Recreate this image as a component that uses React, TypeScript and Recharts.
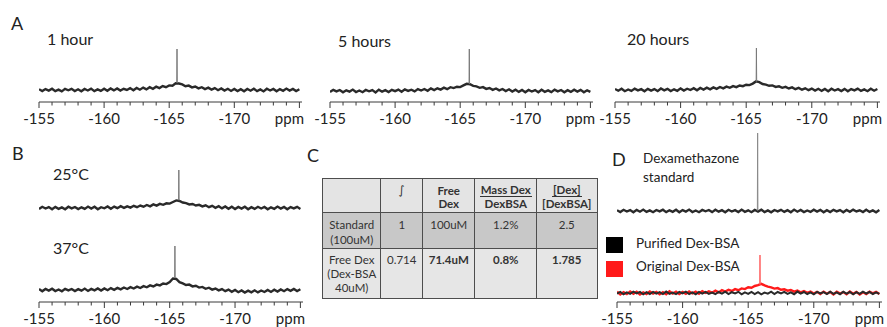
import React from 'react';
import { LineChart, Line, XAxis, YAxis } from 'recharts';

// chemical shift grid shared by every spectrum (ppm)
const ppmGrid = [
  -155, -155.25, -155.5, -155.75, -156, -156.25, -156.5, -156.75,
  -157, -157.25, -157.5, -157.75, -158, -158.25, -158.5, -158.75,
  -159, -159.25, -159.5, -159.75, -160, -160.25, -160.5, -160.75,
  -161, -161.25, -161.5, -161.75, -162, -162.25, -162.5, -162.75,
  -163, -163.25, -163.5, -163.75, -164, -164.25, -164.5, -164.75,
  -165, -165.25, -165.5, -165.75, -166, -166.25, -166.5, -166.75,
  -167, -167.25, -167.5, -167.75, -168, -168.25, -168.5, -168.75,
  -169, -169.25, -169.5, -169.75, -170, -170.25, -170.5, -170.75,
  -171, -171.25, -171.5, -171.75, -172, -172.25, -172.5, -172.75,
  -173, -173.25, -173.5, -173.75, -174, -174.25, -174.5, -174.75,
  -175,
];

const ppmTicks = [
  -155, -156, -157, -158, -159, -160, -161, -162, -163, -164, -165,
  -166, -167, -168, -169, -170, -171, -172, -173, -174, -175,
];

// A: 1 hour
const hour1 = [
  0.8, -1.1, 0.9, -0.6, 1.3, -1.2, 0.4, -1.4, 1.1, -0.3,
  1.2, -1.0, 0.7, -1.3, 1.0, -0.5, 1.4, -1.1, 0.6, -0.9,
  1.3, -0.8, 1.5, -0.4, 1.6, -0.6, 1.2, 0.0, 1.9, -0.2,
  2.1, 0.3, 2.4, 0.6, 2.8, 1.2, 3.3, 1.9, 3.9, 2.8,
  4.6, 4.2, 6.8, 6.5, 5.6, 3.8, 4.4, 2.6, 3.5, 1.6,
  2.8, 0.9, 2.3, 0.4, 1.9, -0.2, 1.6, -0.5, 1.2, -0.9,
  1.1, -1.0, 0.8, -1.2, 1.0, -0.7, 1.3, -1.1, 0.6, -1.4,
  1.2, -0.5, 1.1, -1.2, 0.9, -0.8, 1.4, -0.6, 1.0, -1.1,
  0.7,
];
const hour1PeakPpm = [-165.58, -165.6, -165.62];
const hour1PeakVal = [7.5, 41, 7];

// A: 5 hours
const hour5 = [
  -0.9, 1.2, -0.4, 1.0, -1.3, 0.7, -0.6, 1.4, -1.0, 0.5,
  -1.2, 1.1, -0.3, 0.9, -1.4, 1.3, -0.7, 0.8, -1.1, 1.2,
  -0.2, 1.4, -0.8, 1.6, 0.1, 1.3, -0.4, 1.9, 0.5, 2.0,
  0.2, 2.6, 0.9, 2.7, 1.4, 3.3, 1.8, 3.8, 2.9, 4.3,
  3.9, 5.6, 7.2, 6.8, 5.1, 4.6, 3.2, 3.9, 2.1, 3.0,
  1.2, 2.5, 0.6, 2.0, -0.1, 1.7, -0.6, 1.3, -0.9, 1.0,
  -1.2, 1.1, -0.5, 0.9, -1.3, 1.2, -0.8, 0.6, -1.1, 1.4,
  -0.4, 1.0, -1.2, 0.8, -0.9, 1.3, -0.6, 1.1, -1.3, 0.7,
  -0.8,
];
const hour5PeakPpm = [-165.68, -165.7, -165.72];
const hour5PeakVal = [7.5, 42, 7];

// A: 20 hours
const hour20 = [
  1.0, -0.7, 1.3, -1.2, 0.5, -0.9, 1.4, -0.4, 0.8, -1.3,
  1.1, -0.6, 0.9, -1.1, 1.5, -0.3, 1.2, -1.0, 0.7, -0.8,
  1.6, -0.5, 1.3, 0.0, 1.8, -0.3, 2.0, 0.4, 2.3, 0.7,
  2.6, 1.1, 3.0, 1.6, 3.4, 2.2, 3.9, 2.9, 4.5, 3.8,
  5.3, 4.9, 6.4, 8.6, 7.9, 6.0, 5.4, 4.2, 4.6, 3.1,
  3.7, 2.2, 3.1, 1.5, 2.6, 0.8, 2.1, 0.3, 1.7, -0.2,
  1.4, -0.6, 1.2, -0.9, 1.0, -1.2, 1.3, -0.5, 0.8, -1.1,
  1.1, -1.3, 0.9, -0.4, 1.4, -0.9, 0.6, -1.2, 1.2, -0.7,
  1.0,
];
const hour20PeakPpm = [-165.76, -165.78, -165.8];
const hour20PeakVal = [8.5, 42, 8.5];

// B: 25°C
const temp25 = [
  -1.0, 1.2, -0.5, 0.9, -1.3, 1.1, -0.8, 0.6, -1.2, 1.3,
  -0.4, 1.0, -1.1, 0.7, -0.9, 1.4, -0.6, 1.2, -1.3, 0.8,
  -0.3, 1.5, -0.7, 1.4, -0.2, 1.8, 0.1, 1.7, 0.4, 2.2,
  0.8, 2.5, 1.3, 3.0, 1.7, 3.6, 2.4, 4.1, 3.2, 4.7,
  4.4, 6.0, 7.6, 7.0, 5.5, 4.8, 3.6, 4.0, 2.5, 3.2,
  1.6, 2.7, 0.8, 2.2, 0.2, 1.8, -0.4, 1.5, -0.8, 1.2,
  -1.0, 1.1, -0.6, 1.3, -1.2, 0.8, -0.9, 1.2, -0.5, 1.0,
  -1.3, 0.7, -0.8, 1.4, -0.6, 1.1, -1.2, 0.9, -0.4, 1.2,
  -0.9,
];
const temp25PeakPpm = [-165.68, -165.7, -165.72];
const temp25PeakVal = [8, 38, 7.5];

// B: 37°C
const temp37 = [
  0.9, -1.2, 1.1, -0.6, 1.3, -1.0, 0.5, -1.3, 1.2, -0.4,
  1.0, -1.1, 0.8, -0.7, 1.4, -0.9, 1.1, -0.3, 1.5, -0.5,
  1.6, -0.2, 1.9, 0.2, 2.1, 0.6, 2.5, 1.0, 2.9, 1.5,
  3.4, 2.0, 3.9, 2.7, 4.6, 3.5, 5.4, 4.6, 6.5, 5.9,
  8.0, 11.5, 11.0, 7.9, 6.6, 5.0, 5.4, 3.6, 4.2, 2.4,
  3.1, 1.2, 2.3, 0.4, 1.5, -0.4, 0.9, -1.2, 0.4, -1.8,
  0.0, -2.2, -0.4, -2.5, -0.6, -2.3, -0.3, -2.4, -0.5, -2.0,
  0.1, -1.9, 0.3, -1.5, 0.6, -1.2, 0.9, -0.8, 1.1, -1.0,
  0.8,
];
const temp37PeakPpm = [-165.38, -165.4, -165.42];
const temp37PeakVal = [12.5, 44, 12];

// D: dexamethazone standard
const standard = [
  0.8, -1.0, 1.2, -0.5, 0.9, -1.3, 1.1, -0.7, 1.4, -0.9,
  0.6, -1.2, 1.0, -0.4, 1.3, -1.1, 0.7, -0.8, 1.2, -1.3,
  0.9, -0.6, 1.4, -1.0, 0.5, -1.2, 1.1, -0.3, 1.0, -1.1,
  1.3, -0.7, 0.8, -1.3, 1.2, -0.5, 0.9, -1.0, 1.4, -0.8,
  0.7, -1.2, 1.1, -0.6, 1.3, -1.0, 0.6, -1.3, 1.0, -0.4,
  1.2, -0.9, 0.8, -1.2, 1.4, -0.7, 1.0, -1.1, 0.5, -0.9,
  1.3, -0.6, 1.1, -1.3, 0.8, -1.0, 1.2, -0.4, 0.9, -1.2,
  1.0, -0.8, 1.4, -0.5, 0.7, -1.1, 1.2, -0.9, 0.6, -1.3,
  0.9,
];
const standardPeakPpm = [-165.7, -165.72, -165.74];
const standardPeakVal = [0.5, 78, 0.5];

// D: purified Dex-BSA
const purified = [
  -0.7, 1.1, -1.2, 0.6, -0.9, 1.3, -0.4, 1.0, -1.3, 0.8,
  -1.0, 1.2, -0.6, 0.9, -1.1, 1.4, -0.8, 0.5, -1.2, 1.0,
  -0.5, 1.3, -1.0, 0.7, -1.3, 1.1, -0.6, 1.2, -0.9, 0.4,
  -1.2, 1.0, -0.7, 1.4, -1.1, 0.8, -0.4, 1.2, -1.3, 0.6,
  -0.8, 1.1, -1.0, 0.9, -1.3, 0.5, -0.6, 1.3, -1.1, 1.0,
  -0.4, 1.2, -0.9, 0.7, -1.2, 1.4, -0.7, 1.0, -1.0, 0.6,
  -1.3, 1.1, -0.5, 0.9, -1.1, 1.3, -0.8, 0.6, -1.2, 1.2,
  -0.6, 1.0, -1.3, 0.8, -0.9, 1.4, -0.5, 1.1, -1.0, 0.7,
  -0.8,
];

// D: original Dex-BSA
const original = [
  1.3, -1.5, 0.9, -1.1, 1.6, -0.8, 1.2, -1.6, 0.7, -1.0,
  1.5, -0.6, 1.1, -1.4, 0.8, -1.2, 1.7, -0.5, 1.3, -1.1,
  1.0, -0.9, 1.6, -0.4, 1.4, -0.8, 1.9, 0.0, 1.7, 0.3,
  2.3, 0.6, 2.8, 1.4, 3.2, 2.0, 3.9, 2.8, 4.6, 3.9,
  5.7, 5.2, 7.0, 7.8, 9.2, 7.6, 6.3, 5.6, 4.4, 4.9,
  3.2, 3.8, 2.3, 3.0, 1.4, 2.4, 0.7, 1.9, 0.2, 1.5,
  -0.5, 1.2, -1.0, 1.4, -0.7, 1.0, -1.4, 1.3, -0.6, 0.9,
  -1.2, 1.5, -0.8, 1.1, -1.5, 0.8, -1.0, 1.3, -0.4, 1.1,
  -0.9,
];
const originalPeakPpm = [-165.88, -165.9, -165.92];
const originalPeakVal = [8.5, 38, 8.5];

type Pt = { ppm: number; v: number };

const toPoints = (ppm: number[], vals: number[]): Pt[] => ppm.map((p, i) => ({ ppm: p, v: vals[i] }));

const FONT = 'Lato, "Open Sans", sans-serif';
const INK = '#222';
const AXIS = '#3a3a3a';
const BAND = '#2a2a2a';
const SPIKE = '#7a7a7a';
const RED = '#ff1a1a';

const PpmTick = (props: any) => {
  const { x, y, payload } = props;
  const v = payload.value;
  const major = v % 5 === 0;
  return (
    <g>
      <line x1={x} x2={x} y1={y} y2={y + (major ? 6 : 3.5)} stroke={AXIS} strokeWidth={1} />
      {major && v !== -175 && (
        <text x={x} y={y + 21.5} textAnchor="middle" fontFamily={FONT} fontSize={15} fill={INK}>
          {v}
        </text>
      )}
    </g>
  );
};

const PpmLabel = (props: any) => {
  const vb = props.viewBox || {};
  return (
    <text x={vb.x + vb.width + 2} y={vb.y + 21.5} textAnchor="end" fontFamily={FONT} fontSize={15} fill={INK}>
      ppm
    </text>
  );
};

type Trace = { data: Pt[]; color: string; width: number };

// noisy baseline drawn as a thick band, the sharp resonance as a thin line
const spectrum = (vals: number[], peakPpm: number[], peakVal: number[], color = BAND, spike = SPIKE): Trace[] => [
  { data: toPoints(ppmGrid, vals), color, width: 2.4 },
  { data: toPoints(peakPpm, peakVal), color: spike, width: 1 },
];

const PAD = 22;

const Spectrum: React.FC<{
  plotLeft: number;
  plotWidth: number;
  plotTop: number;
  plotHeight: number;
  yDomain: [number, number];
  traces: Trace[];
  axis?: boolean;
}> = ({ plotLeft, plotWidth, plotTop, plotHeight, yDomain, traces, axis }) => (
  <div style={{ position: 'absolute', left: plotLeft - PAD, top: plotTop }}>
    <LineChart
      width={plotWidth + PAD * 2}
      height={plotHeight + (axis ? 30 : 0)}
      margin={{ top: 0, right: PAD, bottom: 0, left: PAD }}
    >
      <XAxis
        type="number"
        dataKey="ppm"
        domain={[-175.2, -155]}
        reversed
        allowDataOverflow
        hide={!axis}
        height={axis ? 30 : 0}
        ticks={ppmTicks}
        interval={0}
        tickSize={0}
        tickMargin={0}
        tickLine={false}
        axisLine={{ stroke: AXIS, strokeWidth: 1 }}
        tick={<PpmTick />}
        label={axis ? { content: PpmLabel } : undefined}
      />
      <YAxis hide type="number" domain={yDomain} allowDataOverflow />
      {traces.map((t, i) => (
        <Line
          key={i}
          data={t.data}
          dataKey="v"
          type="linear"
          stroke={t.color}
          strokeWidth={t.width}
          strokeLinejoin="miter"
          dot={false}
          activeDot={false}
          isAnimationActive={false}
        />
      ))}
    </LineChart>
  </div>
);

const Txt: React.FC<{ x: number; cy: number; size: number; children: React.ReactNode }> = ({ x, cy, size, children }) => (
  <div
    style={{
      position: 'absolute',
      left: x,
      top: cy - 0.527 * size,
      fontSize: size,
      lineHeight: `${size}px`,
      whiteSpace: 'nowrap',
    }}
  >
    {children}
  </div>
);

// table layout
const colX = [322, 380, 422, 474, 536, 596];
const rowY = [178, 212, 248, 297];
const rowBg = ['#e4e4e4', '#c8c8c8', '#e6e6e6'];

const Frac: React.FC<{ top: string; bottom: string }> = ({ top, bottom }) => (
  <div style={{ fontWeight: 700, lineHeight: '12px' }}>
    <span style={{ display: 'inline-block', borderBottom: '1.4px solid #333', padding: '0 1px' }}>{top}</span>
    <div style={{ lineHeight: '14px' }}>{bottom}</div>
  </div>
);

const cells: React.ReactNode[][] = [
  [
    null,
    <div style={{ lineHeight: '13px', fontFamily: '"DejaVu Sans", sans-serif' }}>∫</div>,
    <div style={{ fontWeight: 700, lineHeight: '13px' }}>Free<br />Dex</div>,
    <Frac top="Mass Dex" bottom="DexBSA" />,
    <Frac top="[Dex]" bottom="[DexBSA]" />,
  ],
  [
    <div style={{ lineHeight: '15px' }}>Standard<br />(100uM)</div>,
    <div style={{ lineHeight: '15px' }}>1</div>,
    <div style={{ lineHeight: '15px' }}>100uM</div>,
    <div style={{ lineHeight: '15px' }}>1.2%</div>,
    <div style={{ lineHeight: '15px' }}>2.5</div>,
  ],
  [
    <div style={{ lineHeight: '14px' }}>Free Dex<br />(Dex-BSA<br />40uM)</div>,
    <div style={{ lineHeight: '14px' }}>0.714</div>,
    <div style={{ lineHeight: '14px', fontWeight: 700 }}>71.4uM</div>,
    <div style={{ lineHeight: '14px', fontWeight: 700 }}>0.8%</div>,
    <div style={{ lineHeight: '14px', fontWeight: 700 }}>1.785</div>,
  ],
];
const cellPadTop = [5, 4, 4];

const DataTable: React.FC = () => (
  <>
    {cells.map((row, r) =>
      row.map((content, c) => (
        <div
          key={`${r}-${c}`}
          style={{
            position: 'absolute',
            left: colX[c],
            top: rowY[r],
            width: colX[c + 1] - colX[c] + 1.5,
            height: rowY[r + 1] - rowY[r] + 1.5,
            boxSizing: 'border-box',
            border: '1.5px solid #4d4d4d',
            background: rowBg[r],
            paddingTop: cellPadTop[r],
            textAlign: 'center',
            fontSize: 11.5,
            color: '#333',
          }}
        >
          {content}
        </div>
      )),
    )}
  </>
);

export default function App() {
  return (
    <div
      style={{
        position: 'absolute',
        left: 0,
        top: 0,
        width: 887,
        height: 327,
        background: '#fff',
        fontFamily: FONT,
        color: INK,
        overflow: 'hidden',
      }}
    >
      {/* A */}
      <Txt x={11} cy={23} size={18}>A</Txt>
      <Txt x={47} cy={39} size={16}>1 hour</Txt>
      <Txt x={338} cy={41} size={16}>5 hours</Txt>
      <Txt x={627} cy={39} size={16}>20 hours</Txt>
      <Spectrum plotLeft={39} plotWidth={263} plotTop={42} plotHeight={60} yDomain={[-12, 48]} axis
        traces={spectrum(hour1, hour1PeakPpm, hour1PeakVal)} />
      <Spectrum plotLeft={330} plotWidth={263} plotTop={42} plotHeight={60} yDomain={[-11, 49]} axis
        traces={spectrum(hour5, hour5PeakPpm, hour5PeakVal)} />
      <Spectrum plotLeft={615} plotWidth={265} plotTop={42} plotHeight={60} yDomain={[-12, 48]} axis
        traces={spectrum(hour20, hour20PeakPpm, hour20PeakVal)} />

      {/* B */}
      <Txt x={12} cy={153.5} size={18}>B</Txt>
      <Txt x={53} cy={174} size={16}>25°C</Txt>
      <Txt x={53} cy={248} size={16}>37°C</Txt>
      <Spectrum plotLeft={39} plotWidth={264} plotTop={166} plotHeight={50} yDomain={[-8, 42]}
        traces={spectrum(temp25, temp25PeakPpm, temp25PeakVal)} />
      <Spectrum plotLeft={39} plotWidth={264} plotTop={242} plotHeight={60} yDomain={[-12, 48]} axis
        traces={spectrum(temp37, temp37PeakPpm, temp37PeakVal)} />

      {/* C */}
      <Txt x={307} cy={155} size={18}>C</Txt>
      <DataTable />

      {/* D */}
      <Txt x={612} cy={159} size={18}>D</Txt>
      <Txt x={643} cy={159} size={13.5}>Dexamethazone</Txt>
      <Txt x={643} cy={178} size={13.5}>standard</Txt>
      <Spectrum plotLeft={617} plotWidth={265} plotTop={131} plotHeight={86} yDomain={[-6, 80]}
        traces={spectrum(standard, standardPeakPpm, standardPeakVal, BAND, '#8a8a8a')} />
      <div style={{ position: 'absolute', left: 606, top: 237, width: 17, height: 16, background: '#000' }} />
      <div style={{ position: 'absolute', left: 606, top: 261, width: 17, height: 16, background: RED }} />
      <Txt x={636} cy={244} size={13.5}>Purified Dex-BSA</Txt>
      <Txt x={636} cy={267} size={13.5}>Original Dex-BSA</Txt>
      <Spectrum plotLeft={617} plotWidth={265} plotTop={242} plotHeight={60} yDomain={[-9, 51]} axis
        traces={[
          ...spectrum(original, originalPeakPpm, originalPeakVal, RED, '#ff6060'),
          { data: toPoints(ppmGrid, purified), color: BAND, width: 2 },
        ]} />
    </div>
  );
}
